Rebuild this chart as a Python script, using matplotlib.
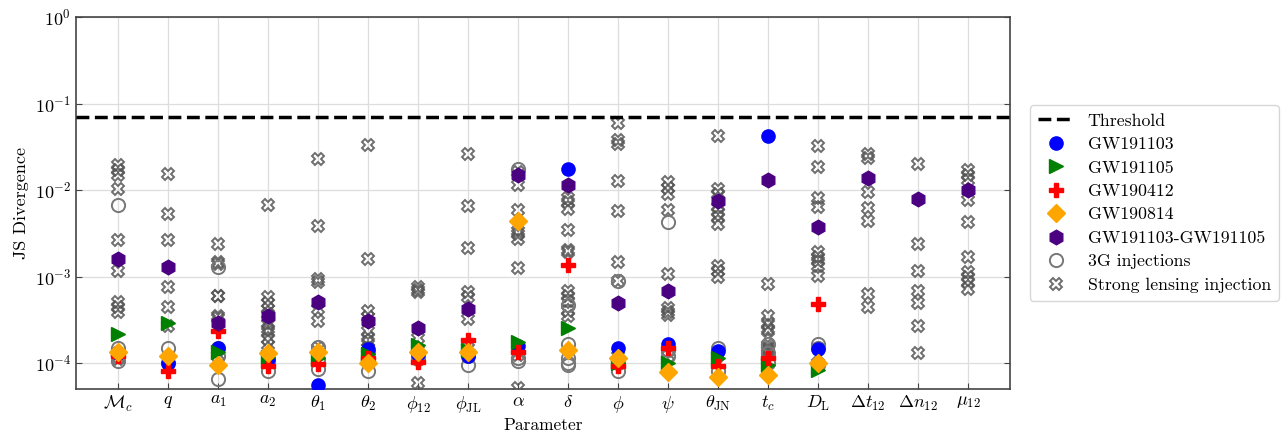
import numpy as np
import matplotlib
matplotlib.use('Agg')
import matplotlib.pyplot as plt
import matplotlib.ticker as mticker

plt.rcParams['font.family'] = 'serif'
plt.rcParams['font.serif'] = ['cmr10', 'DejaVu Serif']
plt.rcParams['mathtext.fontset'] = 'cm'
plt.rcParams['axes.formatter.use_mathtext'] = True
plt.rcParams['axes.unicode_minus'] = False

# ---- parameters ----
params = [r'$\mathcal{M}_c$', r'$q$', r'$a_1$', r'$a_2$', r'$\theta_1$', r'$\theta_2$',
          r'$\phi_{12}$', r'$\phi_{\rm JL}$', r'$\alpha$', r'$\delta$', r'$\phi$', r'$\psi$',
          r'$\theta_{\rm JN}$', r'$t_c$', r'$D_{\rm L}$', r'$\Delta t_{12}$',
          r'$\Delta n_{12}$', r'$\mu_{12}$']

threshold = 0.069

# single-event JS divergences (first 15 parameters)
gw191103 = [1.3e-4, 1.0e-4, 1.51e-4, 1.12e-4, 5.6e-5, 1.45e-4, 1.27e-4, 1.21e-4,
            1.59e-4, 1.73e-2, 1.49e-4, 1.66e-4, 1.37e-4, 4.18e-2, 1.45e-4]
gw191105 = [2.16e-4, 2.9e-4, 1.35e-4, 1.18e-4, 1.13e-4, 1.27e-4, 1.63e-4, 1.4e-4,
            1.73e-4, 2.51e-4, 1.01e-4, 1.01e-4, 1.13e-4, 9.4e-5, 8.35e-5]
gw190412 = [1.21e-4, 8.1e-5, 2.36e-4, 9.3e-5, 9.7e-5, 1.15e-4, 1.03e-4, 1.86e-4,
            1.34e-4, 1.36e-3, 9.3e-5, 1.49e-4, 9.3e-5, 1.13e-4, 4.81e-4]
gw190814 = [1.35e-4, 1.21e-4, 9.5e-5, 1.29e-4, 1.34e-4, 9.9e-5, 1.34e-4, 1.34e-4,
            4.33e-3, 1.4e-4, 1.14e-4, 7.8e-5, 6.8e-5, 7.2e-5, 1.0e-4]
# joint run (all 18 parameters)
gw_joint = [1.6e-3, 1.3e-3, 2.9e-4, 3.46e-4, 5.12e-4, 3.08e-4, 2.51e-4, 4.21e-4,
            1.48e-2, 1.15e-2, 4.94e-4, 6.87e-4, 7.38e-3, 1.29e-2, 3.72e-3,
            1.374e-2, 7.93e-3, 9.9e-3]

# 3G injections, per parameter
inj_3g = [
    [6.63e-3, 1.51e-4, 1.06e-4, 1.2e-4],
    [1.51e-4, 1.0e-4],
    [1.3e-3, 1.51e-4, 1.21e-4, 6.5e-5],
    [1.05e-4, 8.1e-5],
    [1.55e-4, 8.55e-5, 1.1e-4],
    [1.35e-4, 8.1e-5],
    [1.1e-4, 1.2e-4],
    [9.4e-5, 1.2e-4],
    [1.77e-2, 1.15e-4, 1.06e-4],
    [4.65e-4, 1.66e-4, 1.15e-4, 1.01e-4, 9.4e-5],
    [8.8e-4, 8.1e-5, 1.0e-4],
    [4.25e-3, 1.4e-4, 1.2e-4],
    [1.49e-4, 8.1e-5],
    [1.66e-4, 1.3e-4, 1.0e-4],
    [1.66e-4, 1.49e-4, 9.4e-5],
]

# strong lensing injections, per parameter
inj_sl = [
    [1.93e-2, 1.69e-2, 1.48e-2, 1.02e-2, 2.65e-3, 1.15e-3, 5.02e-4, 4.4e-4, 3.85e-4, 1.3e-4, 1.1e-4],
    [1.545e-2, 5.3e-3, 2.65e-3, 7.5e-4, 4.48e-4, 2.7e-4],
    [2.4e-3, 1.46e-3, 1.4e-3, 6.0e-4, 6.0e-4, 3.52e-4, 3.3e-4, 1.2e-4],
    [6.8e-3, 5.85e-4, 4.99e-4, 4.25e-4, 3.7e-4, 2.85e-4, 2.5e-4, 2.3e-4, 1.9e-4, 1.6e-4],
    [2.26e-2, 3.79e-3, 9.4e-4, 8.6e-4, 4.21e-4, 3.08e-4, 1.5e-4],
    [3.31e-2, 1.6e-3, 4.03e-4, 3.37e-4, 2.35e-4, 1.96e-4, 1.73e-4, 1.5e-4],
    [7.5e-4, 7.0e-4, 6.56e-4, 1.96e-4, 1.4e-4, 5.85e-5],
    [2.59e-2, 6.51e-3, 2.14e-3, 6.56e-4, 5.85e-4, 3.23e-4, 1.5e-4],
    [1.6e-2, 1.13e-2, 5.8e-3, 3.4e-3, 3.1e-3, 2.72e-3, 1.24e-3, 1.25e-4, 5.12e-5],
    [8.14e-3, 7.24e-3, 6.07e-3, 3.49e-3, 2.0e-3, 1.9e-3, 6.87e-4, 6.01e-4, 5.26e-4, 4.03e-4, 3.52e-4],
    [5.97e-2, 3.83e-2, 3.44e-2, 1.27e-2, 5.65e-3, 1.46e-3, 8.8e-4, 1.2e-4],
    [1.24e-2, 1.05e-2, 8.9e-3, 5.8e-3, 1.07e-3, 4.3e-4, 3.9e-4, 3.6e-4, 1.2e-4],
    [4.18e-2, 1.035e-2, 9.06e-3, 6.33e-3, 5.54e-3, 4.85e-3, 4.07e-3, 1.34e-3, 1.17e-3, 9.8e-4, 1.2e-4],
    [8.2e-4, 3.52e-4, 2.79e-4, 2.5e-4, 2.35e-4, 1.6e-4, 1.5e-4, 1.4e-4, 1.3e-4],
    [3.23e-2, 1.84e-2, 8.14e-3, 6.33e-3, 1.9e-3, 1.7e-3, 1.53e-3, 1.34e-3, 1.01e-3, 1.0e-4],
    [2.63e-2, 2.34e-2, 9.46e-3, 6.24e-3, 4.36e-3, 6.28e-4, 4.48e-4],
    [1.98e-2, 2.39e-3, 1.17e-3, 6.87e-4, 4.89e-4, 2.7e-4, 1.3e-4],
    [1.69e-2, 1.48e-2, 1.3e-2, 7.6e-3, 4.25e-3, 1.67e-3, 1.12e-3, 9.8e-4, 8.6e-4, 7.2e-4],
]

# ---- figure ----
fig = plt.figure(figsize=(12.85, 4.32), dpi=100)
ax = fig.add_axes([0.0591, 0.0995, 0.727, 0.861])

xs = np.arange(len(params))

# injection clouds in the background
sl_x = np.concatenate([[i] * len(v) for i, v in enumerate(inj_sl)])
sl_y = np.concatenate(inj_sl)
ax.plot(sl_x, sl_y, 'X', ls='none', ms=8, mfc='none', mec='#555555', mew=1.4,
        alpha=0.85, zorder=3, label='Strong lensing injection')

g3_x = np.concatenate([[i] * len(v) for i, v in enumerate(inj_3g)])
g3_y = np.concatenate(inj_3g)
ax.plot(g3_x, g3_y, 'o', ls='none', ms=9.5, mfc='none', mec='#777777', mew=1.4,
        zorder=3, label='3G injections')

n = len(gw191103)
ax.plot(xs[:n], gw191103, 'o', ls='none', ms=9.5, color='#0000ff', zorder=4, label='GW191103')
ax.plot(xs[:n], gw191105, '>', ls='none', ms=9.5, color='green', zorder=4, label='GW191105')
ax.plot(xs[:n], gw190412, 'P', ls='none', ms=10.5, color='#ff0000', zorder=4, label='GW190412')
ax.plot(xs[:n], gw190814, 'D', ls='none', ms=9.5, color='orange', zorder=5, label='GW190814')
ax.plot(xs, gw_joint, 'h', ls='none', ms=10.5, color='indigo', zorder=5, label='GW191103-GW191105')

ax.axhline(threshold, color='black', ls='--', lw=2.5, zorder=6, label='Threshold')

ax.set_yscale('log')
ax.set_ylim(5e-5, 1)
ax.set_xlim(-0.84, len(params) - 0.16)
ax.set_xticks(xs)
ax.set_xticklabels(params, fontsize=13)
ax.yaxis.set_major_locator(mticker.LogLocator(base=10, numticks=10))
ax.yaxis.set_minor_locator(mticker.NullLocator())
ax.tick_params(axis='y', labelsize=13)
ax.tick_params(direction='in', which='both', right=True, length=4, color='#444444')
ax.grid(True, color='#dddddd', lw=0.9, zorder=0)
ax.set_axisbelow(True)
for sp in ax.spines.values():
    sp.set_color('#444444')
    sp.set_linewidth(1.2)

ax.set_xlabel('Parameter', fontsize=12.5, labelpad=2)
ax.set_ylabel('JS Divergence', fontsize=13)

# legend in the order: threshold, events, injections
handles, labels = ax.get_legend_handles_labels()
order = ['Threshold', 'GW191103', 'GW191105', 'GW190412', 'GW190814',
         'GW191103-GW191105', '3G injections', 'Strong lensing injection']
hmap = dict(zip(labels, handles))
ax.legend([hmap[k] for k in order], order, loc='center left', bbox_to_anchor=(1.021, 0.5),
          borderaxespad=0, fontsize=12.8, frameon=True, fancybox=True, edgecolor='#cccccc',
          handlelength=2.0, borderpad=0.45, labelspacing=0.45, handletextpad=0.8)

fig.savefig('out.png', dpi=100)
